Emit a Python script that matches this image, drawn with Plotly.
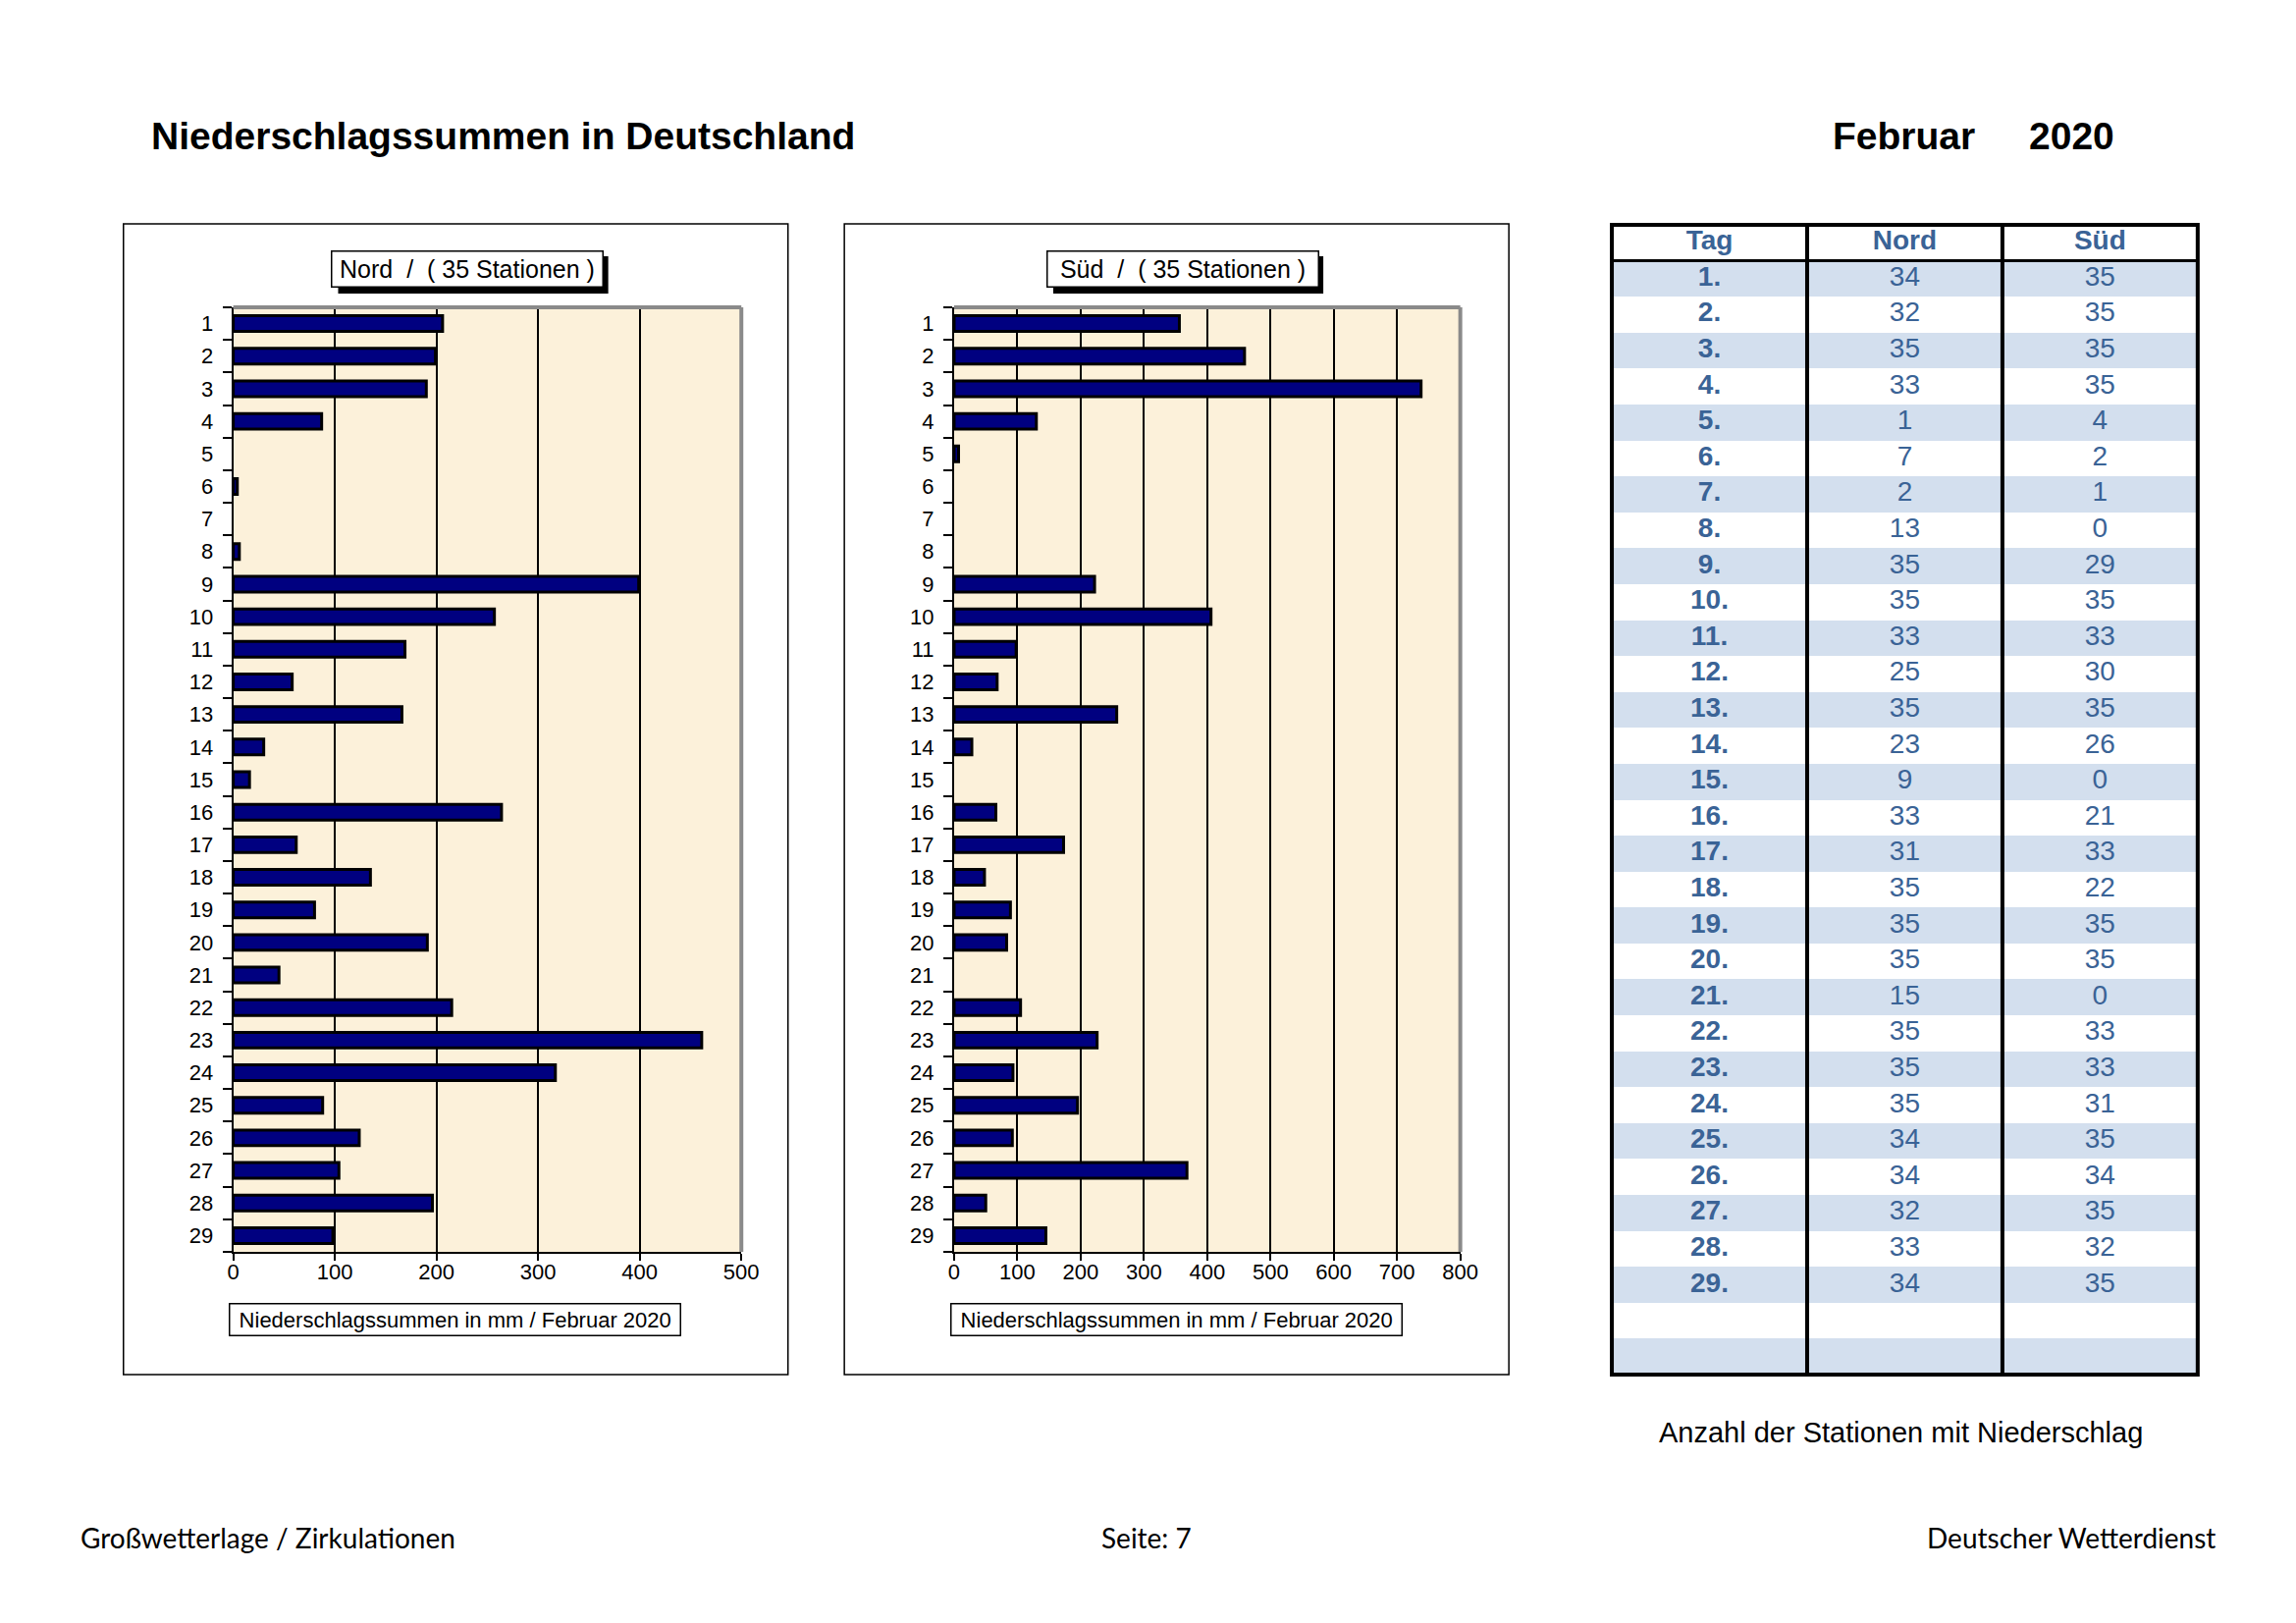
import plotly.graph_objects as go

W, H = 2339, 1653
FONT = "Liberation Sans, Arial, sans-serif"
FOOT = "Lato, Carlito, sans-serif"
BLUE = "#3A6396"
STRIPE = "#D3DFEE"

# ---------------- data ----------------
days = list(range(1, 30))
nord_mm = [206, 199, 190, 87, 0, 4, 0, 6, 399, 257, 169, 58, 166, 30, 16,
           264, 62, 135, 80, 191, 45, 215, 461, 317, 88, 124, 104, 196, 98]
sued_mm = [356, 459, 738, 130, 7, 0, 0, 0, 222, 406, 98, 68, 257, 28, 0,
           66, 173, 48, 89, 83, 0, 105, 226, 93, 195, 92, 368, 50, 145]
nord_stations = [34, 32, 35, 33, 1, 7, 2, 13, 35, 35, 33, 25, 35, 23, 9,
                 33, 31, 35, 35, 35, 15, 35, 35, 35, 34, 34, 32, 33, 34]
sued_stations = [35, 35, 35, 35, 4, 2, 1, 0, 29, 35, 33, 30, 35, 26, 0,
                 21, 33, 22, 35, 35, 0, 33, 33, 31, 35, 34, 35, 32, 35]
table_header = ["Tag", "Nord", "Süd"]
nord_max, sued_max = 500, 800
empty_rows = 2


def px(x):
    return x / W


def py(y):
    return 1 - y / H


fig = go.Figure()


def bar_trace(vals, xa, ya, name):
    return go.Bar(x=vals, y=days, xaxis=xa, yaxis=ya, name=name, orientation="h",
                  width=0.48, hoverinfo="x+y",
                  marker=dict(color="#000080",
                              line=dict(color="black",
                                        width=[3 if v > 0 else 0 for v in vals])))


fig.add_trace(bar_trace(nord_mm, "x", "y", "Nord"))
fig.add_trace(bar_trace(sued_mm, "x2", "y2", "Süd"))

# ---------------- table (striped heatmap + text) ----------------
n_rows = 1 + len(days) + empty_rows
rows = list(range(n_rows))
cols = [0, 1, 2]
z = [[0, 0, 0]] + [[1 if i % 2 == 1 else 0] * 3 for i in range(1, n_rows)]
fig.add_trace(go.Heatmap(z=z, x=cols, y=rows, xaxis="x3", yaxis="y3",
                         colorscale=[[0, "white"], [1, STRIPE]], zmin=0, zmax=1,
                         showscale=False, hoverinfo="skip"))
tfont = dict(family=FONT, size=28, color=BLUE)
fig.add_trace(go.Scatter(x=cols, y=[0, 0, 0], mode="text", xaxis="x3", yaxis="y3",
                         text=[f"<b>{h}</b>" for h in table_header],
                         textfont=tfont, hoverinfo="skip"))
fig.add_trace(go.Scatter(x=[0] * len(days), y=days, mode="text", xaxis="x3", yaxis="y3",
                         text=[f"<b>{d}.</b>" for d in days],
                         textfont=tfont, hoverinfo="skip"))
fig.add_trace(go.Scatter(x=[1] * len(days), y=days, mode="text", xaxis="x3", yaxis="y3",
                         text=[str(v) for v in nord_stations],
                         textfont=tfont, hoverinfo="skip"))
fig.add_trace(go.Scatter(x=[2] * len(days), y=days, mode="text", xaxis="x3", yaxis="y3",
                         text=[str(v) for v in sued_stations],
                         textfont=tfont, hoverinfo="skip"))

axis_x = dict(dtick=100, tick0=0, showgrid=True, gridcolor="black", gridwidth=1.5,
              linecolor="black", linewidth=2, ticks="outside", ticklen=7,
              tickcolor="black", tickwidth=2, zeroline=False, fixedrange=True,
              ticklabelstandoff=-7,
              tickfont=dict(family=FONT, size=22, color="black"))
axis_y = dict(range=[29.5, 0.5], tickmode="linear", tick0=1, dtick=1, ticks="",
              showgrid=False, linecolor="black", linewidth=2, zeroline=False,
              ticklabelstandoff=14, fixedrange=True,
              tickfont=dict(family=FONT, size=22, color="black"),
              minor=dict(ticks="outside", tick0=0.5, dtick=1, ticklen=9,
                         tickcolor="black", tickwidth=2, showgrid=False))

fig.update_layout(
    width=W, height=H, margin=dict(l=0, r=0, t=0, b=0),
    paper_bgcolor="white", plot_bgcolor="#FCF1DA", showlegend=False,
    xaxis=dict(domain=[px(234), px(757)], range=[0, nord_max], anchor="y", **axis_x),
    yaxis=dict(domain=[py(1275), py(313)], anchor="x", **axis_y),
    xaxis2=dict(domain=[px(976), px(1497)], range=[0, sued_max], anchor="y2", **axis_x),
    yaxis2=dict(domain=[py(1275), py(313)], anchor="x2", **axis_y),
    xaxis3=dict(domain=[px(1653), px(2256)], range=[-0.5, 2.5], anchor="y3",
                visible=False, fixedrange=True),
    yaxis3=dict(domain=[py(1400), py(229)], range=[n_rows - 0.5, -0.5], anchor="x3",
                visible=False, fixedrange=True),
)

# title boxes: centre (px), size (px)
title_boxes = [("Nord", 475), ("Süd", 1211)]
box_cy, box_w, box_h, sh = 274, 278, 38, 6

shapes = []
# chart frames
for x0, x1 in [(121, 805), (863, 1547)]:
    shapes.append(dict(type="rect", xref="paper", yref="paper", x0=px(x0), x1=px(x1),
                       y0=py(1400), y1=py(228), line=dict(color="black", width=1.5)))
# title box shadows
for _, cx in title_boxes:
    shapes.append(dict(type="rect", xref="paper", yref="paper",
                       x0=px(cx - box_w / 2 + sh), x1=px(cx + box_w / 2 + sh),
                       y0=py(box_cy + box_h / 2 + sh), y1=py(box_cy - box_h / 2 + sh),
                       fillcolor="black", line=dict(width=0)))
# grey top/right plot borders
for xr, yr in [("x", "y"), ("x2", "y2")]:
    shapes.append(dict(type="line", xref=f"{xr} domain", yref=f"{yr} domain",
                       x0=0, x1=1, y0=1, y1=1, line=dict(color="#8a8a8a", width=4)))
    shapes.append(dict(type="line", xref=f"{xr} domain", yref=f"{yr} domain",
                       x0=1, x1=1, y0=0, y1=1, line=dict(color="#8a8a8a", width=4)))
# table frame and column separators
shapes.append(dict(type="rect", xref="x3 domain", yref="y3 domain", x0=0, x1=1,
                   y0=0, y1=1, line=dict(color="black", width=4)))
for xc in [0.5, 1.5]:
    shapes.append(dict(type="line", xref="x3", yref="y3 domain", x0=xc, x1=xc,
                       y0=0, y1=1, line=dict(color="black", width=4)))
shapes.append(dict(type="line", xref="x3 domain", yref="y3", x0=0, x1=1,
                   y0=0.5, y1=0.5, line=dict(color="black", width=3)))
fig.update_layout(shapes=shapes)

NB = "\u00a0"
base = dict(xref="paper", yref="paper", showarrow=False, xanchor="center", yanchor="middle")
ann = []
# chart titles
for label, cx in title_boxes:
    txt = f"{label}{NB}{NB}/{NB}{NB}({NB}35 Stationen{NB})"
    ann.append(dict(base, text=txt, x=px(cx), y=py(box_cy),
                    width=box_w - 9, height=box_h - 9,
                    font=dict(family=FONT, size=25, color="black"),
                    bgcolor="white", bordercolor="black", borderwidth=1.5, borderpad=3))
# axis title boxes
for lx in [229, 972]:
    ann.append(dict(base, text=f"{NB}Niederschlagssummen in mm / Februar 2020{NB}",
                    x=px(lx), y=py(1344), xanchor="left",
                    font=dict(family=FONT, size=22, color="black"),
                    bgcolor="white", bordercolor="black", borderwidth=1.5, borderpad=3))
# page texts
ann += [
    dict(base, text="<b>Niederschlagssummen in Deutschland</b>", x=px(148), y=py(138),
         xanchor="left", font=dict(family=FONT, size=39, color="black")),
    dict(base, text="<b>Februar</b>", x=px(1878), y=py(138),
         xanchor="left", font=dict(family=FONT, size=39, color="black")),
    dict(base, text="<b>2020</b>", x=px(2080), y=py(138),
         xanchor="left", font=dict(family=FONT, size=39, color="black")),
    dict(base, text="Anzahl der Stationen mit Niederschlag", x=px(1951), y=py(1459),
         font=dict(family=FONT, size=29, color="black")),
    dict(base, text="Großwetterlage / Zirkulationen", x=px(75), y=py(1566),
         xanchor="left", font=dict(family=FOOT, size=28, color="black")),
    dict(base, text="Seite: 7", x=px(1174), y=py(1566),
         font=dict(family=FOOT, size=28, color="black")),
    dict(base, text="Deutscher Wetterdienst", x=px(2276), y=py(1566),
         xanchor="right", font=dict(family=FOOT, size=28, color="black")),
]
fig.update_layout(annotations=ann)

fig.write_html("out.html", config={"displayModeBar": False},
               post_script="document.body.style.margin='0';")
